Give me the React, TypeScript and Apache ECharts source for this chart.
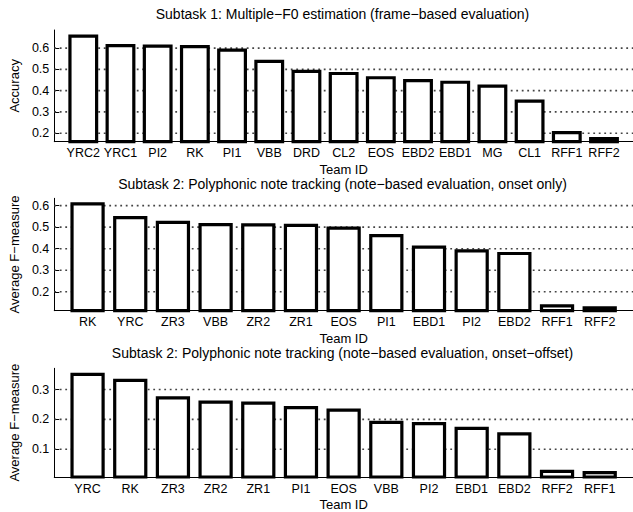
import React, { useEffect, useRef } from "react";
import * as echarts from "echarts";

const teams1 = ["YRC2", "YRC1", "PI2", "RK", "PI1", "VBB", "DRD", "CL2", "EOS", "EBD2", "EBD1", "MG", "CL1", "RFF1", "RFF2"];
const accuracy1 = [0.664, 0.619, 0.617, 0.614, 0.598, 0.545, 0.498, 0.488, 0.468, 0.455, 0.447, 0.429, 0.358, 0.21, 0.182];

const teams2 = ["RK", "YRC", "ZR3", "VBB", "ZR2", "ZR1", "EOS", "PI1", "EBD1", "PI2", "EBD2", "RFF1", "RFF2"];
const fOnset2 = [0.616, 0.552, 0.53, 0.519, 0.518, 0.516, 0.503, 0.468, 0.415, 0.397, 0.385, 0.142, 0.133];

const teams3 = ["YRC", "RK", "ZR3", "ZR2", "ZR1", "PI1", "EOS", "VBB", "PI2", "EBD1", "EBD2", "RFF2", "RFF1"];
const fOffset3 = [0.356, 0.336, 0.277, 0.263, 0.26, 0.245, 0.236, 0.195, 0.191, 0.175, 0.157, 0.031, 0.027];

const yTicks1 = [0.2, 0.3, 0.4, 0.5, 0.6];
const yTicks2 = [0.2, 0.3, 0.4, 0.5, 0.6];
const yTicks3 = [0.1, 0.2, 0.3];

const titles = [
  "Subtask 1: Multiple\u2212F0 estimation (frame\u2212based evaluation)",
  "Subtask 2: Polyphonic note tracking (note\u2212based evaluation, onset only)",
  "Subtask 2: Polyphonic note tracking (note\u2212based evaluation, onset\u2212offset)",
];
const yNames = ["Accuracy", "Average F\u2212measure", "Average F\u2212measure"];

const FONT = "'Liberation Sans', Arial, Helvetica, sans-serif";
const W = 633;
const H = 512;
const LEFT = 52;
const PLOT_W = W - LEFT;

const panels = [
  { teams: teams1, values: accuracy1, ticks: yTicks1, yMin: 0.16, yMax: 0.685, top: 30, height: 111.7, titleY: 14 },
  { teams: teams2, values: fOnset2, ticks: yTicks2, yMin: 0.112, yMax: 0.634, top: 198.3, height: 112.4, titleY: 183.5 },
  { teams: teams3, values: fOffset3, ticks: yTicks3, yMin: 0.007, yMax: 0.371, top: 368.3, height: 111, titleY: 353 },
];

export default function App() {
  const ref = useRef<HTMLDivElement>(null);
  useEffect(() => {
    if (!ref.current) return;
    const chart = echarts.init(ref.current, null, { renderer: "svg" });
    const grid: any[] = [];
    const xAxis: any[] = [];
    const yAxis: any[] = [];
    const series: any[] = [];
    const graphic: any[] = [];
    panels.forEach((p, i) => {
      const n = p.teams.length;
      const xMin = 0.22;
      const xMax = n + 0.78;
      const unit = PLOT_W / (xMax - xMin);
      grid.push({ left: LEFT, right: 0, top: p.top, height: p.height });
      xAxis.push({
        type: "value",
        gridIndex: i,
        min: xMin,
        max: xMax,
        name: "Team ID",
        nameLocation: "middle",
        nameGap: 21,
        nameTextStyle: { fontFamily: FONT, fontSize: 13, color: "#000" },
        axisLine: { show: true, lineStyle: { color: "#000", width: 1 } },
        axisTick: { show: false },
        splitLine: { show: false },
        axisLabel: {
          customValues: p.teams.map((_, k) => k + 1),
          formatter: (v: number) => p.teams[Math.round(v) - 1] ?? "",
          fontFamily: FONT,
          fontSize: 12.5,
          color: "#000",
          margin: 5,
        },
      });
      yAxis.push({
        type: "value",
        gridIndex: i,
        min: p.yMin,
        max: p.yMax,
        name: yNames[i],
        nameLocation: "middle",
        nameGap: 33,
        nameTextStyle: { fontFamily: FONT, fontSize: 13, color: "#000" },
        axisLine: { show: true, lineStyle: { color: "#000", width: 1 } },
        axisTick: { show: true, inside: true, length: 5, customValues: p.ticks, lineStyle: { color: "#000" } },
        axisLabel: {
          customValues: p.ticks,
          formatter: (v: number) => v.toFixed(1),
          fontFamily: FONT,
          fontSize: 12.5,
          color: "#000",
          margin: 5,
        },
        splitLine: { show: false },
      });
      // dotted horizontal grid lines at the tick values, drawn beneath the bars
      p.ticks.forEach((t) => {
        series.push({
          type: "line",
          xAxisIndex: i,
          yAxisIndex: i,
          data: [
            [xMin, t],
            [xMax, t],
          ],
          symbol: "none",
          showSymbol: false,
          silent: true,
          clip: false,
          z: 1,
          lineStyle: { color: "#444", type: [1.8, 3.7], width: 1.6, opacity: 1 },
          emphasis: { disabled: true },
        });
      });
      series.push({
        type: "bar",
        xAxisIndex: i,
        yAxisIndex: i,
        barWidth: 0.8 * unit,
        data: p.values.map((v, k) => [k + 1, v]),
        itemStyle: { color: "#fff", borderColor: "#000", borderWidth: 3.2 },
        clip: true,
        z: 3,
      });
      graphic.push({
        type: "text",
        x: LEFT + PLOT_W / 2,
        y: p.titleY,
        style: {
          text: titles[i],
          fill: "#000",
          fontSize: 14,
          fontFamily: FONT,
          align: "center",
          verticalAlign: "middle",
        },
      });
    });
    chart.setOption({
      animation: false,
      backgroundColor: "#fff",
      grid,
      xAxis,
      yAxis,
      series,
      graphic,
    });
    return () => chart.dispose();
  }, []);
  return (
    <div
      ref={ref}
      style={{ position: "fixed", left: 0, top: 0, width: W, height: H, background: "#fff" }}
    />
  );
}
